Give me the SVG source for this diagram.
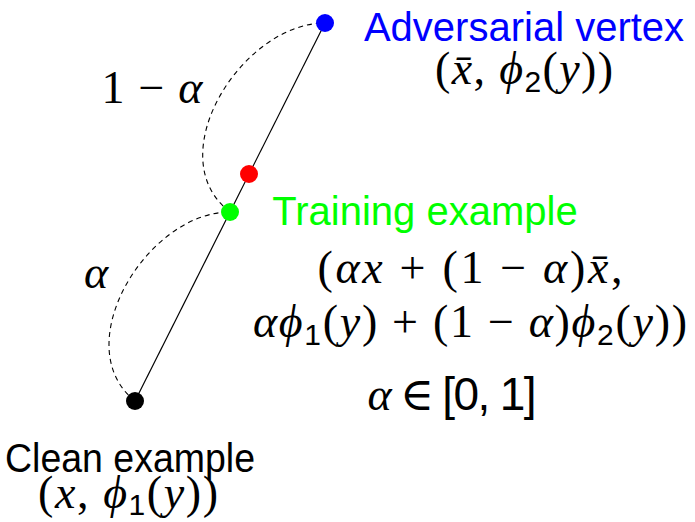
<svg xmlns="http://www.w3.org/2000/svg" width="695" height="522" viewBox="0 0 695 522">
<style>
.word{font-family:"Liberation Sans","Open Sans",sans-serif;font-size:40px;text-anchor:middle}
.math{font-family:"Liberation Serif","DejaVu Serif",serif;font-size:46px;text-anchor:middle;fill:#000}
.i{font-style:italic}
.sub{font-family:"Liberation Sans",sans-serif;font-size:30px}
.dash{fill:none;stroke:#000;stroke-width:1.1;stroke-dasharray:5 4}
.solid{stroke:#000;stroke-width:1.2}
</style>
<rect width="695" height="522" fill="#fff"/>
<g id="connectors">
<line class="solid" x1="135" y1="401" x2="325" y2="23"/>
<path class="dash" d="M135,401 C66,346 147,212 230,212"/>
<path class="dash" d="M230,212 C158,157 242,23 325,23"/>
<text class="math" x="96" y="288"><tspan class="i">α</tspan></text>
<text class="math" x="152" y="103" textLength="101">1 − <tspan class="i">α</tspan></text>
</g>
<g id="clean">
<circle cx="135" cy="401" r="9" fill="#000"/>
<text class="word" x="130" y="472" fill="#000" textLength="250" lengthAdjust="spacingAndGlyphs">Clean example</text>
<text class="math" x="128" y="508" font-size="43" textLength="180">(<tspan class="i">x</tspan>, <tspan class="i">ϕ</tspan><tspan class="sub" dy="7">1</tspan><tspan dy="-7">(</tspan><tspan class="i">y</tspan>))</text>
</g>
<g id="midpoint">
<circle cx="249" cy="174" r="9" fill="#ff0000"/>
</g>
<g id="training">
<circle cx="230" cy="212" r="9" fill="#00ff00"/>
<text class="word" x="425" y="225" fill="#00ff00">Training example</text>
<text class="math" x="470" y="283" textLength="305">(<tspan class="i">αx</tspan> + (1 − <tspan class="i">α</tspan>)<tspan class="i">x̄</tspan>,</text>
<text class="math" x="470" y="337" textLength="434"><tspan class="i">αϕ</tspan><tspan class="sub" dy="8">1</tspan><tspan dy="-8">(</tspan><tspan class="i">y</tspan>) + (1 − <tspan class="i">α</tspan>)<tspan class="i">ϕ</tspan><tspan class="sub" dy="8">2</tspan><tspan dy="-8">(</tspan><tspan class="i">y</tspan>))</text>
<text class="math" x="452" y="410" textLength="169"><tspan class="i">α</tspan> ∈ <tspan font-family="Liberation Sans, sans-serif">[0, 1]</tspan></text>
</g>
<g id="adversarial">
<circle cx="325" cy="23" r="9" fill="#0000ff"/>
<text class="word" x="524" y="41" fill="#0000ff">Adversarial vertex</text>
<text class="math" x="524" y="84" textLength="178">(<tspan class="i">x̄</tspan>, <tspan class="i">ϕ</tspan><tspan class="sub" dy="8">2</tspan><tspan dy="-8">(</tspan><tspan class="i">y</tspan>))</text>
</g>
</svg>
